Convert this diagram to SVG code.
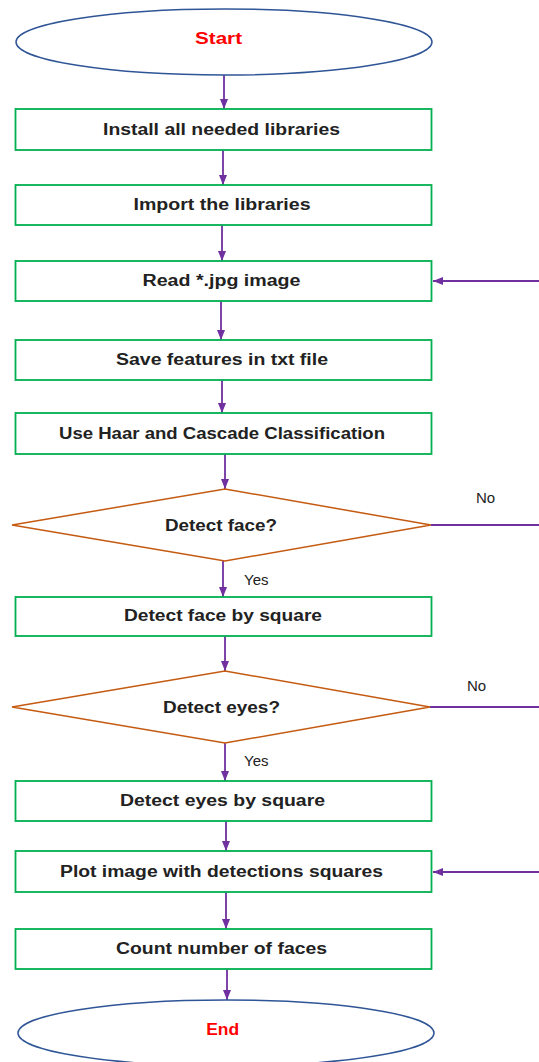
<svg xmlns="http://www.w3.org/2000/svg" width="539" height="1062" viewBox="0 0 539 1062">
<style>
.term{fill:#fff;stroke:#2F5597;stroke-width:1.5}
.box{fill:#fff;stroke:#00B050;stroke-width:1.8}
.dec{fill:#fff;stroke:#C55A11;stroke-width:1.5}
.t{font-family:"Liberation Sans",Arial,sans-serif;font-weight:bold;font-size:16px;fill:#222;text-anchor:middle}
.tr{font-family:"Liberation Sans",Arial,sans-serif;font-weight:bold;font-size:16px;fill:#FF0000;text-anchor:middle}
.lbl{font-family:"Liberation Sans",Arial,sans-serif;font-size:15px;fill:#222}
.c{fill:none;stroke:#7030A0;stroke-width:1.8}
</style>
<defs>
<marker id="ah" markerUnits="userSpaceOnUse" markerWidth="10" markerHeight="10" viewBox="0 0 10 10" refX="10" refY="5" orient="auto">
<path d="M0,1 L10,5 L0,9 Z" fill="#7030A0"/>
</marker>
</defs>
<rect width="539" height="1062" fill="#fff"/>
<g id="connectors">
<line class="c" x1="224" y1="75" x2="224" y2="109" marker-end="url(#ah)"/>
<line class="c" x1="223" y1="150" x2="223" y2="185" marker-end="url(#ah)"/>
<line class="c" x1="222" y1="225" x2="222" y2="261" marker-end="url(#ah)"/>
<line class="c" x1="221" y1="301" x2="221" y2="340" marker-end="url(#ah)"/>
<line class="c" x1="222" y1="380" x2="222" y2="413" marker-end="url(#ah)"/>
<line class="c" x1="225" y1="454" x2="225" y2="489" marker-end="url(#ah)"/>
<line class="c" x1="223" y1="561" x2="223" y2="597" marker-end="url(#ah)"/>
<line class="c" x1="225" y1="636" x2="225" y2="671" marker-end="url(#ah)"/>
<line class="c" x1="225" y1="743" x2="225" y2="781" marker-end="url(#ah)"/>
<line class="c" x1="226" y1="821" x2="226" y2="851" marker-end="url(#ah)"/>
<line class="c" x1="226" y1="892" x2="226" y2="929" marker-end="url(#ah)"/>
<line class="c" x1="227" y1="969" x2="227" y2="1000" marker-end="url(#ah)"/>
<line class="c" x1="431" y1="525" x2="539" y2="525"/>
<line class="c" x1="430" y1="707" x2="539" y2="707"/>
<line class="c" x1="539" y1="281" x2="433" y2="281" marker-end="url(#ah)"/>
<line class="c" x1="539" y1="872" x2="433" y2="872" marker-end="url(#ah)"/>
<text class="lbl" x="476" y="503">No</text>
<text class="lbl" x="467" y="691">No</text>
<text class="lbl" x="244" y="585">Yes</text>
<text class="lbl" x="244" y="766">Yes</text>
</g>
<g id="start">
<ellipse class="term" cx="224" cy="42" rx="208" ry="33"/>
<text class="tr" x="218.5" y="44" textLength="47" lengthAdjust="spacingAndGlyphs">Start</text>
</g>
<g id="install">
<rect class="box" x="15.5" y="109" width="416" height="41"/>
<text class="t" x="221.5" y="135" textLength="237" lengthAdjust="spacingAndGlyphs">Install all needed libraries</text>
</g>
<g id="import">
<rect class="box" x="15.5" y="185" width="416" height="40"/>
<text class="t" x="222" y="210" textLength="177" lengthAdjust="spacingAndGlyphs">Import the libraries</text>
</g>
<g id="read">
<rect class="box" x="15.5" y="261" width="416" height="40"/>
<text class="t" x="221.5" y="286" textLength="158" lengthAdjust="spacingAndGlyphs">Read *.jpg image</text>
</g>
<g id="save">
<rect class="box" x="15.5" y="340" width="416" height="40"/>
<text class="t" x="222" y="365" textLength="212" lengthAdjust="spacingAndGlyphs">Save features in txt file</text>
</g>
<g id="haar">
<rect class="box" x="15.5" y="413" width="416" height="41"/>
<text class="t" x="222" y="439" textLength="326" lengthAdjust="spacingAndGlyphs">Use Haar and Cascade Classification</text>
</g>
<g id="detectFace">
<polygon class="dec" points="225,489 431,525 225,561 12,525"/>
<text class="t" x="221" y="531" textLength="112" lengthAdjust="spacingAndGlyphs">Detect face?</text>
</g>
<g id="faceSquare">
<rect class="box" x="15.5" y="597" width="416" height="39"/>
<text class="t" x="223" y="621" textLength="198" lengthAdjust="spacingAndGlyphs">Detect face by square</text>
</g>
<g id="detectEyes">
<polygon class="dec" points="225,671 430,707 225,743 12,707"/>
<text class="t" x="221.5" y="713" textLength="117" lengthAdjust="spacingAndGlyphs">Detect eyes?</text>
</g>
<g id="eyesSquare">
<rect class="box" x="15.5" y="781" width="416" height="40"/>
<text class="t" x="222.5" y="806" textLength="205" lengthAdjust="spacingAndGlyphs">Detect eyes by square</text>
</g>
<g id="plot">
<rect class="box" x="15.5" y="851" width="416" height="41"/>
<text class="t" x="221.5" y="877" textLength="323" lengthAdjust="spacingAndGlyphs">Plot image with detections squares</text>
</g>
<g id="count">
<rect class="box" x="15.5" y="929" width="416" height="40"/>
<text class="t" x="221.5" y="954" textLength="211" lengthAdjust="spacingAndGlyphs">Count number of faces</text>
</g>
<g id="end">
<ellipse class="term" cx="226" cy="1033" rx="208" ry="33"/>
<text class="tr" x="222.7" y="1035" textLength="33" lengthAdjust="spacingAndGlyphs">End</text>
</g>
</svg>
